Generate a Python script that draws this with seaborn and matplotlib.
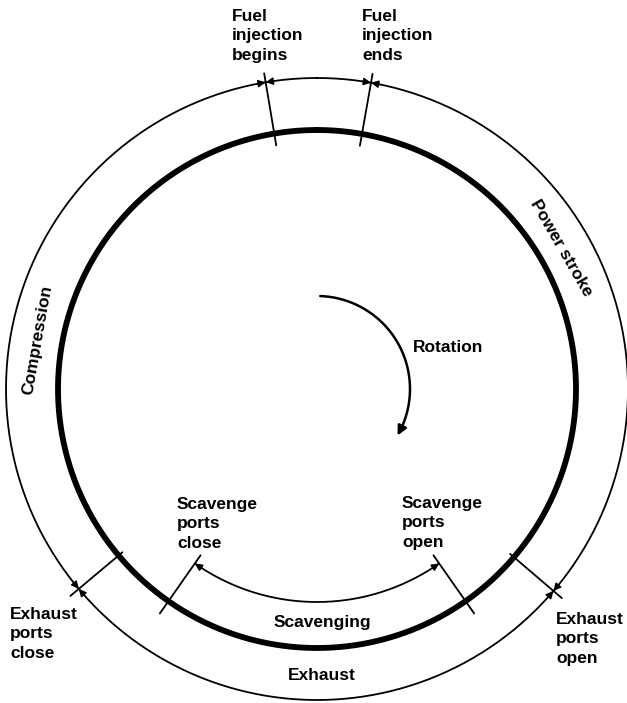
import numpy as np
import pandas as pd
import seaborn as sns
import matplotlib.pyplot as plt

# crank angles (degrees, clockwise from top dead centre)
event_labels = ["Fuel\ninjection\nbegins", "Fuel\ninjection\nends",
                "Exhaust\nports\nopen", "Scavenge\nports\nopen",
                "Scavenge\nports\nclose", "Exhaust\nports\nclose"]
event_angles = [-9.5, 10.0, 130.5, 145.0, 215.0, 230.0]
outer_events = [-9.5, 10.0, 130.5, 230.0]
scavenge_events = [145.0, 215.0]
rotation_arc = [2.0, 120.0]
phase_labels = ["Power stroke", "Exhaust", "Scavenging", "Compression", "Rotation"]

sns.set_theme(style="white")
plt.rcParams["font.family"] = ["Liberation Sans", "DejaVu Sans"]
plt.rcParams["text.color"] = "black"

CX, CY = 317, 389
R_IN, R_OUT, R_SCAV, R_ROT = 259, 311, 213, 93


def pt(theta, r):
    t = np.radians(theta)
    return CX + r * np.sin(t), CY - r * np.cos(t)


def arc_df(a0, a1, r, n=400):
    th = np.linspace(a0, a1, n)
    x, y = pt(th, r)
    return pd.DataFrame({"x": x, "y": y})


def ring(a0, a1, r, lw):
    sns.lineplot(data=arc_df(a0, a1, r), x="x", y="y", sort=False,
                 estimator=None, color="black", lw=lw, ax=ax)


def arrowhead(ax, theta, r, side, lw=1.0, scale=11):
    # side = -1: arrow comes from smaller angles, +1: from larger angles
    d = np.degrees(9.0 / r)
    tip = pt(theta, r)
    tail = pt(theta + side * d, r)
    ax.annotate("", xy=tip, xytext=tail,
                arrowprops=dict(arrowstyle="-|>", color="black", lw=lw,
                                mutation_scale=scale, shrinkA=0, shrinkB=0))


fig = plt.figure(figsize=(6.27, 7.03), dpi=100)
ax = fig.add_axes([0, 0, 1, 1])

# rings
ring(0, 360, R_OUT, 1.3)
ring(0, 360, R_IN, 4.2)
ring(scavenge_events[0], scavenge_events[1], R_SCAV, 1.3)
ring(rotation_arc[0], rotation_arc[1] - 4, R_ROT, 1.8)

# event marker lines
for a in event_angles:
    if a in scavenge_events:
        r0, r1 = 203, 274
    elif a in (-9.5, 10.0):
        r0, r1 = 247, 320
    else:
        r0, r1 = 254, 322
    x0, y0 = pt(a, r0)
    x1, y1 = pt(a, r1)
    ax.plot([x0, x1], [y0, y1], color="black", lw=1.3)

# arrowheads
for a in outer_events:
    arrowhead(ax, a, R_OUT, -1)
    arrowhead(ax, a, R_OUT, +1)
arrowhead(ax, scavenge_events[0], R_SCAV, +1)
arrowhead(ax, scavenge_events[1], R_SCAV, -1)
arrowhead(ax, rotation_arc[1], R_ROT, -1, lw=1.8, scale=14)

# event labels
fs = 12.5
label_pos = {
    "Fuel\ninjection\nbegins": (232, 9),
    "Fuel\ninjection\nends": (362, 9),
    "Exhaust\nports\nopen": (556, 612),
    "Scavenge\nports\nopen": (402, 496),
    "Scavenge\nports\nclose": (177, 497),
    "Exhaust\nports\nclose": (10, 607),
}
for lab in event_labels:
    x, y = label_pos[lab]
    ax.text(x, y, lab, ha="left", va="top", fontsize=fs,
            fontweight="bold", linespacing=1.36)

# phase labels
ax.text(561, 248, phase_labels[0], rotation=-60, ha="center", va="center",
        fontsize=fs, fontweight="bold", rotation_mode="anchor")
ax.text(322, 675, phase_labels[1], ha="center", va="center",
        fontsize=fs, fontweight="bold")
ax.text(322, 623, phase_labels[2], ha="center", va="center",
        fontsize=fs, fontweight="bold")
ax.text(38, 340, phase_labels[3], rotation=80, ha="center", va="center",
        fontsize=fs, fontweight="bold", rotation_mode="anchor")
ax.text(413, 347, phase_labels[4], ha="left", va="center",
        fontsize=fs, fontweight="bold")

ax.set_xlim(0, 627)
ax.set_ylim(703, 0)
ax.axis("off")
fig.savefig("out.png", dpi=100)
